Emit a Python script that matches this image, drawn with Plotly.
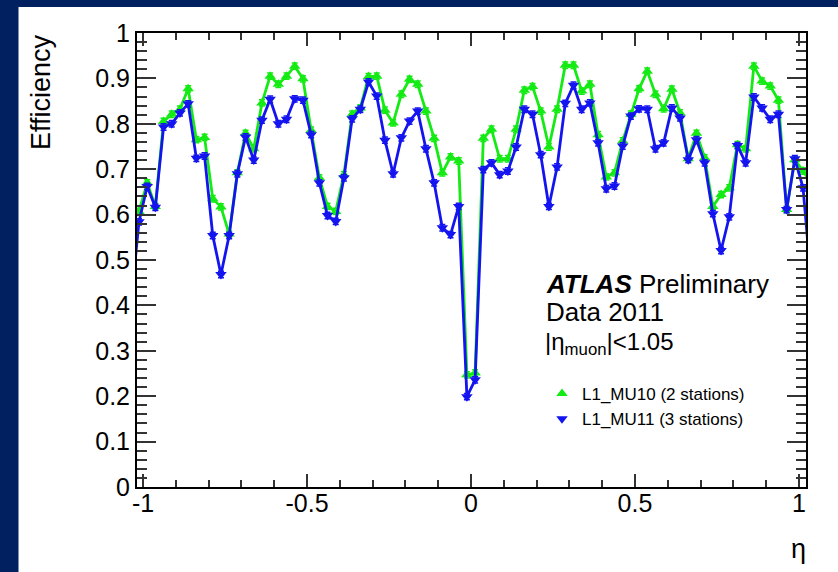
import plotly.graph_objects as go

# Bin centres in eta (bin width 0.025)
eta = [-1.0375, -1.0125, -0.9875, -0.9625, -0.9375, -0.9125, -0.8875, -0.8625,
       -0.8375, -0.8125, -0.7875, -0.7625, -0.7375, -0.7125, -0.6875, -0.6625,
       -0.6375, -0.6125, -0.5875, -0.5625, -0.5375, -0.5125, -0.4875, -0.4625,
       -0.4375, -0.4125, -0.3875, -0.3625, -0.3375, -0.3125, -0.2875, -0.2625,
       -0.2375, -0.2125, -0.1875, -0.1625, -0.1375, -0.1125, -0.0875, -0.0625,
       -0.0375, -0.0125, 0.0125, 0.0375, 0.0625, 0.0875, 0.1125, 0.1375,
       0.1625, 0.1875, 0.2125, 0.2375, 0.2625, 0.2875, 0.3125, 0.3375,
       0.3625, 0.3875, 0.4125, 0.4375, 0.4625, 0.4875, 0.5125, 0.5375,
       0.5625, 0.5875, 0.6125, 0.6375, 0.6625, 0.6875, 0.7125, 0.7375,
       0.7625, 0.7875, 0.8125, 0.8375, 0.8625, 0.8875, 0.9125, 0.9375,
       0.9625, 0.9875, 1.0125, 1.0375]

# L1_MU10 (2 stations) efficiency per bin
eff_mu10 = [0.580, 0.607, 0.670, 0.618, 0.805, 0.821, 0.832, 0.877, 0.765, 0.770,
            0.635, 0.617, 0.557, 0.692, 0.779, 0.745, 0.846, 0.905, 0.887, 0.905,
            0.927, 0.899, 0.786, 0.681, 0.618, 0.607, 0.688, 0.821, 0.835, 0.904,
            0.905, 0.830, 0.802, 0.865, 0.898, 0.887, 0.828, 0.768, 0.692, 0.727,
            0.718, 0.247, 0.251, 0.768, 0.788, 0.723, 0.723, 0.788, 0.874, 0.882,
            0.828, 0.749, 0.832, 0.929, 0.929, 0.872, 0.887, 0.776, 0.683, 0.692,
            0.762, 0.821, 0.877, 0.916, 0.865, 0.833, 0.876, 0.824, 0.723, 0.779,
            0.725, 0.618, 0.644, 0.659, 0.754, 0.745, 0.927, 0.894, 0.883, 0.852,
            0.611, 0.721, 0.696, 0.670]

# L1_MU11 (3 stations) efficiency per bin
eff_mu11 = [0.400, 0.584, 0.662, 0.616, 0.793, 0.800, 0.824, 0.844, 0.724, 0.729,
            0.554, 0.468, 0.554, 0.690, 0.771, 0.720, 0.808, 0.854, 0.800, 0.810,
            0.855, 0.852, 0.776, 0.670, 0.598, 0.585, 0.681, 0.811, 0.832, 0.892,
            0.861, 0.764, 0.690, 0.769, 0.806, 0.828, 0.745, 0.670, 0.571, 0.556,
            0.618, 0.199, 0.236, 0.699, 0.714, 0.688, 0.696, 0.749, 0.832, 0.821,
            0.732, 0.618, 0.705, 0.845, 0.885, 0.832, 0.846, 0.758, 0.657, 0.663,
            0.751, 0.817, 0.833, 0.832, 0.745, 0.758, 0.835, 0.813, 0.721, 0.765,
            0.714, 0.602, 0.521, 0.595, 0.752, 0.714, 0.859, 0.835, 0.810, 0.821,
            0.611, 0.723, 0.659, 0.450]

stat_err = 0.007

GREEN = "rgb(20,235,20)"
BLUE = "rgb(20,20,240)"
NAVY = "#012060"
FONT = "Liberation Sans, Arial, Helvetica, sans-serif"

W, H = 838, 572
ML, MR, MT, MB = 137, 32, 33, 85
PW, PH = W - ML - MR, H - MT - MB


def px_x(p):
    return (p - ML) / PW


def px_y(p):
    return (H - MB - p) / PH


fig = go.Figure()

series = [
    ("L1_MU10 (2 stations)", eff_mu10, GREEN, "triangle-up"),
    ("L1_MU11 (3 stations)", eff_mu11, BLUE, "triangle-down"),
]

for name, vals, col, sym in series:
    fig.add_trace(go.Scatter(
        x=eta, y=vals, mode="lines+markers", showlegend=False,
        line=dict(color=col, width=2.8),
        marker=dict(symbol=sym, size=10, color=col),
        error_y=dict(type="constant", value=stat_err, color=col,
                     thickness=1.5, width=3),
    ))

# marker-only entries for the legend
for name, vals, col, sym in series:
    fig.add_trace(go.Scatter(
        x=[None], y=[None], mode="markers", name=name,
        marker=dict(symbol=sym, size=10, color=col),
    ))

axis_common = dict(
    showline=True, linecolor="black", linewidth=2, mirror="ticks",
    ticks="inside", tickcolor="#333333", tickwidth=1.5,
    showgrid=False, zeroline=False,
    tickfont=dict(family=FONT, size=25, color="black"),
)

fig.update_xaxes(
    range=[-1.0185, 1.0215], tick0=0, dtick=0.5, ticklen=13,
    minor=dict(dtick=0.1, ticklen=7, ticks="inside", tickcolor="#333333",
               tickwidth=1.5, showgrid=False),
    tickvals=[-1, -0.5, 0, 0.5, 1], ticktext=["-1", "-0.5", "0", "0.5", "1"],
    ticklabelstandoff=-7,
    **axis_common,
)
fig.update_yaxes(
    range=[0, 1.0], tick0=0, dtick=0.1, ticklen=19,
    minor=dict(dtick=0.02, ticklen=10, ticks="inside", tickcolor="#333333",
               tickwidth=1.5, showgrid=False),
    ticklabelstandoff=0,
    **axis_common,
)

annotations = [
    dict(text="Efficiency", textangle=-90, x=px_x(41), y=1.0,
         xanchor="center", yanchor="top", font=dict(size=27)),
    dict(text="η", x=px_x(807), y=px_y(549), xanchor="right", yanchor="middle",
         font=dict(size=27)),
    dict(text="<b><i>ATLAS</i></b> Preliminary", x=px_x(545), y=px_y(284),
         xanchor="left", yanchor="middle", font=dict(size=26)),
    dict(text="Data 2011", x=px_x(545), y=px_y(312),
         xanchor="left", yanchor="middle", font=dict(size=26)),
    dict(text="|η<sub>muon</sub>|&lt;1.05", x=px_x(544), y=px_y(343),
         xanchor="left", yanchor="middle", font=dict(size=24)),
]
for a in annotations:
    a.update(xref="paper", yref="paper", showarrow=False, borderpad=0)
    a["font"].update(family=FONT, color="black")

shapes = [
    # slide border: left strip and top strip
    dict(type="rect", xref="paper", yref="paper", x0=px_x(-5), x1=px_x(18.5),
         y0=px_y(H + 5), y1=px_y(-5), fillcolor=NAVY, line=dict(width=0),
         layer="below"),
    dict(type="rect", xref="paper", yref="paper", x0=px_x(-5), x1=px_x(W + 5),
         y0=px_y(7), y1=px_y(-5), fillcolor=NAVY, line=dict(width=0),
         layer="below"),
]

fig.update_layout(
    width=W, height=H,
    margin=dict(l=ML, r=MR, t=MT, b=MB, pad=0),
    paper_bgcolor="white", plot_bgcolor="white",
    font=dict(family=FONT, color="black"),
    annotations=annotations, shapes=shapes,
    legend=dict(x=px_x(542), y=px_y(376), xanchor="left", yanchor="top",
                bgcolor="rgba(0,0,0,0)", font=dict(family=FONT, size=17),
                itemwidth=30, tracegroupgap=0),
)

fig.write_html("out.html")
